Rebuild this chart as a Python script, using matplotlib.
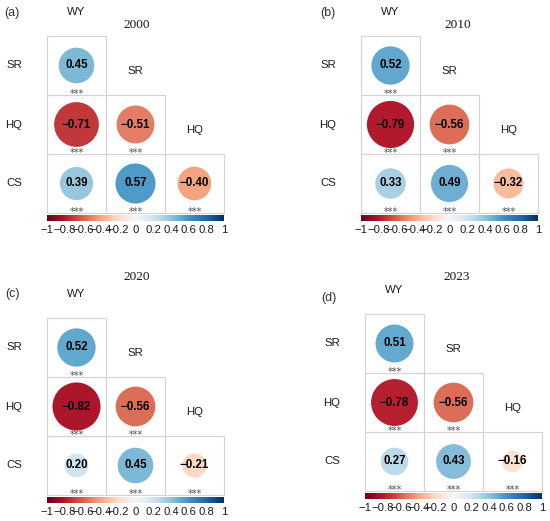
'''Correlation circle matrices for WY, SR, HQ and CS in four years.'''

import numpy as np
import matplotlib
matplotlib.use('Agg')
import matplotlib.pyplot as plt
from matplotlib.patches import Circle, Rectangle

# Data
variables=['WY', 'SR', 'HQ', 'CS']
years=['2000', '2010', '2020', '2023']
panel_tags=['(a)', '(b)', '(c)', '(d)']

# lower triangle, row by row: SR-WY | HQ-WY, HQ-SR | CS-WY, CS-SR, CS-HQ
corr_2000=[0.45, -0.71, -0.51, 0.39, 0.57, -0.40]
corr_2010=[0.52, -0.79, -0.56, 0.33, 0.49, -0.32]
corr_2020=[0.52, -0.82, -0.56, 0.20, 0.45, -0.21]
corr_2023=[0.51, -0.78, -0.56, 0.27, 0.43, -0.16]
significance=['***'] * 6

cbar_ticks=[-1, -0.8, -0.6, -0.4, -0.2, 0, 0.2, 0.4, 0.6, 0.8, 1]

# Figure size in pixels
W, H=550, 521
CELL=59

# grid left, grid top, title x/y, tag x/y (pixels)
layout=[
    (47, 36, 137, 25, 12, 13),
    (361, 36, 458, 25, 328, 13),
    (47, 318, 137, 277, 13, 294),
    (365, 314, 457, 277, 329, 298),
]

SANS='Liberation Sans'
SERIF='Liberation Serif'
cmap=plt.cm.RdBu


def fmt(v):
    '''Formats a value with a real minus sign.'''
    s=f'{v:.2f}'
    return s.replace('-', '\u2212')


def fmt_tick(v):
    s=f'{v:g}'
    return s.replace('-', '\u2212')


def draw_panel(fig, values, year, tag, pos):
    '''Draws one lower-triangle correlation plot with its colour bar.'''
    gl, gt, tx, ty, lx, ly=pos
    size=3 * CELL

    ax=fig.add_axes([gl / W, 1 - (gt + size) / H, size / W, size / H])
    ax.set_xlim(0, 3)
    ax.set_ylim(3, 0)
    ax.axis('off')

    k=0
    for i in range(3):
        for j in range(i + 1):
            r=values[k]
            ax.add_patch(Rectangle((j, i), 1, 1, fill=False, edgecolor='#d3d3d3',
                                   lw=0.8, clip_on=False))
            ax.add_patch(Circle((j + 0.5, i + 0.5), 0.45 * np.sqrt(abs(r)),
                                facecolor=cmap((r + 1) / 2), edgecolor='none'))
            ax.text(j + 0.5, i + 0.5, fmt(r), ha='center', va='center',
                    fontsize=8.3, fontweight='bold', family=SANS, color='black')
            ax.text(j + 0.5, i + 1.03, significance[k], ha='center', va='baseline',
                    fontsize=7, family='DejaVu Sans', color='#4d4d4d', clip_on=False)
            k += 1

    # row labels
    for i, name in enumerate(variables[1:]):
        ax.text(-33 / CELL, i + 0.5, name, ha='center', va='center',
                fontsize=8.2, family=SANS, color='#1a1a1a', clip_on=False)

    # column labels on the diagonal
    for j, name in enumerate(variables[:3]):
        ax.text(j + 0.5, j - 0.4, name, ha='center', va='center',
                fontsize=8.2, family=SANS, color='#1a1a1a', clip_on=False)

    fig.text(tx / W, 1 - ty / H, year, ha='center', va='center',
             fontsize=9.5, family=SERIF, color='#1a1a1a')
    fig.text(lx / W, 1 - ly / H, tag, ha='center', va='center',
             fontsize=9, family=SANS, color='#333333')

    # colour bar
    cb_top=gt + size + 2
    cax=fig.add_axes([gl / W, 1 - (cb_top + 6) / H, size / W, 6 / H])
    grad=np.linspace(-1, 1, 256).reshape(1, -1)
    cax.imshow(grad, cmap=cmap, aspect='auto', extent=(-1, 1, 0, 1), vmin=-1, vmax=1)
    cax.set_xticks([])
    cax.set_yticks([])
    for sp in cax.spines.values():
        sp.set_visible(False)

    for t in cbar_ticks:
        x=gl + (t + 1) / 2 * size
        fig.text(x / W, 1 - (cb_top + 15) / H, fmt_tick(t), ha='center', va='center',
                 fontsize=8.1, family=SANS, color='#1a1a1a')


if __name__ == "__main__":

    fig=plt.figure(figsize=(W / 100, H / 100), dpi=100)

    all_values=[corr_2000, corr_2010, corr_2020, corr_2023]
    for values, year, tag, pos in zip(all_values, years, panel_tags, layout):
        draw_panel(fig, values, year, tag, pos)

    fig.savefig('out.png', dpi=100, facecolor='white')
